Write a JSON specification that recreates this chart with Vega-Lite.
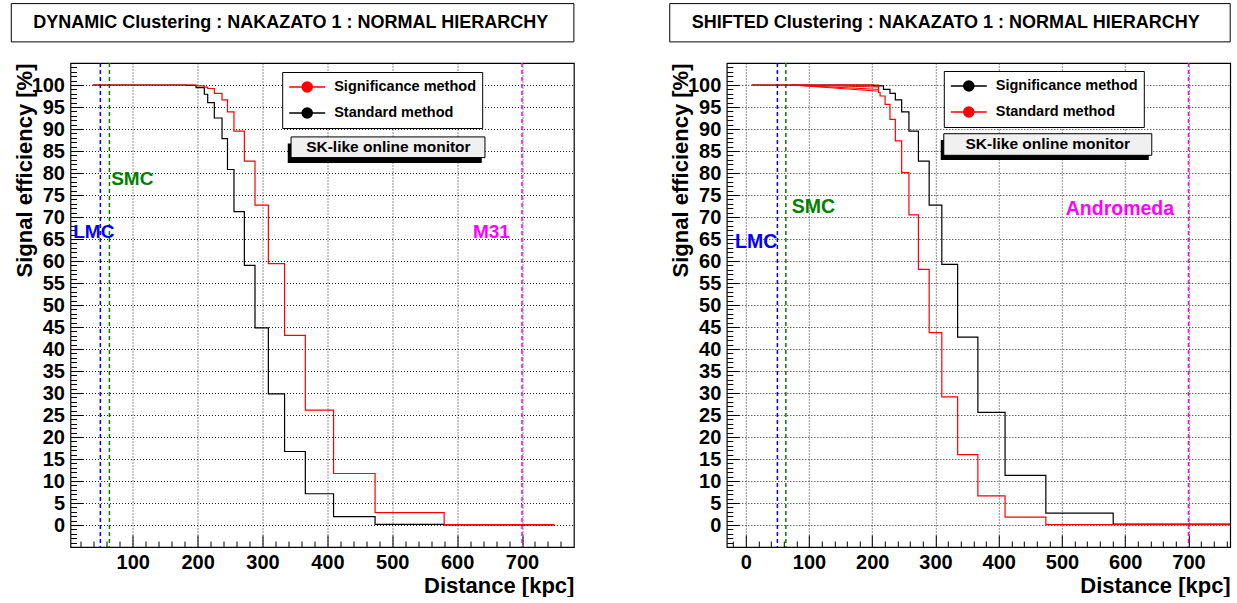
{
  "$schema": "https://vega.github.io/schema/vega-lite/v6.json",
  "background": "white",
  "padding": {"left": 9.5, "top": 2, "right": 0, "bottom": 0},
  "autosize": {"type": "pad"},
  "bounds": "flush",
  "spacing": 152.3,
  "config": {
    "font": "Liberation Sans",
    "view": {"stroke": "black", "strokeWidth": 1.2},
    "axis": {
      "domain": false, "format": "d",
      "labelFont": "Liberation Sans", "labelFontWeight": "bold", "labelFontSize": 20, "labelColor": "black",
      "titleFont": "Liberation Sans", "titleFontWeight": "bold", "titleFontSize": 22, "titleColor": "black",
      "tickColor": "black", "tickWidth": 1, "tickSize": -12, "tickCount": 300,
      "gridColor": "#222", "gridDash": [1, 2], "gridWidth": 1,
      "labelOverlap": false, "labelFlush": false, "labelBound": false
    }
  },
  "datasets": {
    "dyn": [
      {"method": "Standard method", "d": 38.5, "eff": 100},
      {"method": "Standard method", "d": 182, "eff": 99.9},
      {"method": "Standard method", "d": 197.5, "eff": 99.4},
      {"method": "Standard method", "d": 210.3, "eff": 97.9},
      {"method": "Standard method", "d": 215.5, "eff": 96.0},
      {"method": "Standard method", "d": 225.7, "eff": 92.5},
      {"method": "Standard method", "d": 237.6, "eff": 87.8},
      {"method": "Standard method", "d": 246, "eff": 80.8},
      {"method": "Standard method", "d": 256, "eff": 71.2},
      {"method": "Standard method", "d": 272, "eff": 59.0},
      {"method": "Standard method", "d": 288.4, "eff": 44.8},
      {"method": "Standard method", "d": 309, "eff": 29.8},
      {"method": "Standard method", "d": 334, "eff": 16.7},
      {"method": "Standard method", "d": 366, "eff": 7.1},
      {"method": "Standard method", "d": 409.5, "eff": 1.9},
      {"method": "Standard method", "d": 473.5, "eff": 0.16},
      {"method": "Standard method", "d": 580, "eff": 0},
      {"method": "Standard method", "d": 750, "eff": 0},
      {"method": "Significance method", "d": 38.5, "eff": 100},
      {"method": "Significance method", "d": 182, "eff": 100},
      {"method": "Significance method", "d": 197.5, "eff": 99.8},
      {"method": "Significance method", "d": 210.3, "eff": 99.5},
      {"method": "Significance method", "d": 215.5, "eff": 99.2},
      {"method": "Significance method", "d": 225.7, "eff": 98.1},
      {"method": "Significance method", "d": 237.6, "eff": 96.6},
      {"method": "Significance method", "d": 246, "eff": 93.9},
      {"method": "Significance method", "d": 256, "eff": 89.5},
      {"method": "Significance method", "d": 272, "eff": 82.7},
      {"method": "Significance method", "d": 288.4, "eff": 72.7},
      {"method": "Significance method", "d": 309, "eff": 59.4},
      {"method": "Significance method", "d": 334, "eff": 43.1},
      {"method": "Significance method", "d": 366, "eff": 26.1},
      {"method": "Significance method", "d": 409.5, "eff": 11.7},
      {"method": "Significance method", "d": 473.5, "eff": 2.8},
      {"method": "Significance method", "d": 580, "eff": 0.1},
      {"method": "Significance method", "d": 750, "eff": 0.1}
    ],
    "shf": [
      {"method": "Significance method", "d": 9.5, "eff": 100},
      {"method": "Significance method", "d": 202, "eff": 99.8},
      {"method": "Significance method", "d": 217.7, "eff": 99.0},
      {"method": "Significance method", "d": 228, "eff": 98.1},
      {"method": "Significance method", "d": 236.5, "eff": 96.6},
      {"method": "Significance method", "d": 246.5, "eff": 93.9},
      {"method": "Significance method", "d": 258, "eff": 89.5},
      {"method": "Significance method", "d": 273, "eff": 82.7},
      {"method": "Significance method", "d": 290, "eff": 72.7},
      {"method": "Significance method", "d": 310, "eff": 59.25},
      {"method": "Significance method", "d": 335, "eff": 42.7},
      {"method": "Significance method", "d": 367, "eff": 25.6},
      {"method": "Significance method", "d": 410, "eff": 11.3},
      {"method": "Significance method", "d": 474.5, "eff": 2.7},
      {"method": "Significance method", "d": 581, "eff": 0.2},
      {"method": "Significance method", "d": 766, "eff": 0.2},
      {"method": "Standard method", "d": 9.5, "eff": 100},
      {"method": "Standard method", "d": 210, "eff": 98.3},
      {"method": "Standard method", "d": 212.4, "eff": 97.5},
      {"method": "Standard method", "d": 220.3, "eff": 95.6},
      {"method": "Standard method", "d": 228, "eff": 92.2},
      {"method": "Standard method", "d": 236.5, "eff": 87.3},
      {"method": "Standard method", "d": 246.5, "eff": 80.1},
      {"method": "Standard method", "d": 258, "eff": 70.5},
      {"method": "Standard method", "d": 273, "eff": 58.1},
      {"method": "Standard method", "d": 290, "eff": 43.7},
      {"method": "Standard method", "d": 310, "eff": 29.1},
      {"method": "Standard method", "d": 335, "eff": 16.0},
      {"method": "Standard method", "d": 367, "eff": 6.6},
      {"method": "Standard method", "d": 410, "eff": 1.8},
      {"method": "Standard method", "d": 474.5, "eff": 0.1},
      {"method": "Standard method", "d": 766, "eff": 0.1}
    ],
    "fan": [
      {"id": "a", "d": 72, "eff": 100},
      {"id": "a", "d": 210, "eff": 99.55},
      {"id": "b", "d": 72, "eff": 100},
      {"id": "b", "d": 210, "eff": 99.0},
      {"id": "c", "d": 72, "eff": 100},
      {"id": "c", "d": 210, "eff": 98.6}
    ],
    "one": [{}]
  },
  "hconcat": [
    {
      "width": 503.4,
      "height": 484,
      "layer": [
        {
          "data": {"name": "one"},
          "mark": {"type": "rect", "fill": "white", "stroke": "black", "strokeWidth": 1, "clip": false},
          "encoding": {
            "x": {"datum": -87.3, "type": "quantitative", "scale": {"domain": [4, 780], "nice": false, "zero": false}},
            "x2": {"datum": 780},
            "y": {"datum": 118.5, "type": "quantitative", "scale": {"domain": [-5, 105], "nice": false, "zero": false}},
            "y2": {"datum": 109.8}
          }
        },
        {
          "data": {"name": "one"},
          "mark": {"type": "text", "align": "left", "baseline": "middle", "fontSize": 18, "fontWeight": "bold", "color": "black", "clip": false},
          "encoding": {
            "x": {"datum": -53.5, "type": "quantitative", "scale": {"domain": [4, 780], "nice": false, "zero": false}},
            "y": {"datum": 114.2, "type": "quantitative", "scale": {"domain": [-5, 105], "nice": false, "zero": false}},
            "text": {"value": "DYNAMIC Clustering : NAKAZATO 1 : NORMAL HIERARCHY"}
          }
        },
        {
          "data": {"name": "one"},
          "mark": {"type": "rule", "color": "#0000ff", "strokeWidth": 1.5, "strokeDash": [4, 3]},
          "encoding": {"x": {"datum": 50, "type": "quantitative", "scale": {"domain": [4, 780], "nice": false, "zero": false}}}
        },
        {
          "data": {"name": "one"},
          "mark": {"type": "rule", "color": "#008000", "strokeWidth": 1.5, "strokeDash": [4, 3]},
          "encoding": {"x": {"datum": 64, "type": "quantitative", "scale": {"domain": [4, 780], "nice": false, "zero": false}}}
        },
        {
          "data": {"name": "one"},
          "mark": {"type": "rule", "color": "#ff00ff", "strokeWidth": 1.5, "strokeDash": [4, 3]},
          "encoding": {"x": {"datum": 700, "type": "quantitative", "scale": {"domain": [4, 780], "nice": false, "zero": false}}}
        },
        {
          "data": {"name": "one"},
          "mark": {"type": "text", "align": "left", "baseline": "middle", "fontSize": 19, "fontWeight": "bold", "color": "#0000ff"},
          "encoding": {
            "x": {"datum": 8.2, "type": "quantitative", "scale": {"domain": [4, 780], "nice": false, "zero": false}},
            "y": {"datum": 66.5, "type": "quantitative", "scale": {"domain": [-5, 105], "nice": false, "zero": false}},
            "text": {"value": "LMC"}
          }
        },
        {
          "data": {"name": "one"},
          "mark": {"type": "text", "align": "left", "baseline": "middle", "fontSize": 19, "fontWeight": "bold", "color": "#008000"},
          "encoding": {
            "x": {"datum": 66.7, "type": "quantitative", "scale": {"domain": [4, 780], "nice": false, "zero": false}},
            "y": {"datum": 78.7, "type": "quantitative", "scale": {"domain": [-5, 105], "nice": false, "zero": false}},
            "text": {"value": "SMC"}
          }
        },
        {
          "data": {"name": "one"},
          "mark": {"type": "text", "align": "left", "baseline": "middle", "fontSize": 19, "fontWeight": "bold", "color": "#ff00ff"},
          "encoding": {
            "x": {"datum": 624.3, "type": "quantitative", "scale": {"domain": [4, 780], "nice": false, "zero": false}},
            "y": {"datum": 66.5, "type": "quantitative", "scale": {"domain": [-5, 105], "nice": false, "zero": false}},
            "text": {"value": "M31"}
          }
        },
        {
          "data": {"name": "dyn"},
          "mark": {"type": "line", "interpolate": "step-after", "strokeWidth": 1.2},
          "encoding": {
            "x": {
              "field": "d", "type": "quantitative",
              "scale": {"domain": [4, 780], "nice": false, "zero": false},
              "axis": {
                "title": "Distance [kpc]", "titleAnchor": "end", "titlePadding": 3, "tickCount": 300, "format": "d",
                "values": [20, 40, 60, 80, 100, 120, 140, 160, 180, 200, 220, 240, 260, 280, 300, 320, 340, 360, 380, 400, 420, 440, 460, 480, 500, 520, 540, 560, 580, 600, 620, 640, 660, 680, 700, 720, 740, 760],
                "labelExpr": "datum.value % 100 === 0 ? datum.label : ''",
                "tickDash": {"condition": {"test": "datum.value % 100 === 0", "value": [100, 1]}, "value": [6, 100]},
                "labelPadding": 17,
                "grid": true,
                "gridOpacity": {"condition": {"test": "datum.value % 100 === 0", "value": 1}, "value": 0}
              }
            },
            "y": {
              "field": "eff", "type": "quantitative",
              "scale": {"domain": [-5, 105], "nice": false, "zero": false},
              "axis": {
                "title": "Signal efficiency [%]", "titleAnchor": "end", "titlePadding": -5, "tickCount": 300, "format": "d",
                "values": [-5, -4, -3, -2, -1, 0, 1, 2, 3, 4, 5, 6, 7, 8, 9, 10, 11, 12, 13, 14, 15, 16, 17, 18, 19, 20, 21, 22, 23, 24, 25, 26, 27, 28, 29, 30, 31, 32, 33, 34, 35, 36, 37, 38, 39, 40, 41, 42, 43, 44, 45, 46, 47, 48, 49, 50, 51, 52, 53, 54, 55, 56, 57, 58, 59, 60, 61, 62, 63, 64, 65, 66, 67, 68, 69, 70, 71, 72, 73, 74, 75, 76, 77, 78, 79, 80, 81, 82, 83, 84, 85, 86, 87, 88, 89, 90, 91, 92, 93, 94, 95, 96, 97, 98, 99, 100, 101, 102, 103, 104, 105],
                "labelExpr": "datum.value % 5 === 0 && datum.value >= 0 && datum.value <= 100 ? datum.label : ''",
                "tickDash": {"condition": {"test": "datum.value % 5 === 0", "value": [100, 1]}, "value": [6, 100]},
                "labelPadding": 18,
                "grid": true,
                "gridOpacity": {"condition": {"test": "datum.value % 5 === 0 && datum.value >= 0 && datum.value <= 100", "value": 1}, "value": 0}
              }
            },
            "color": {
              "field": "method", "type": "nominal",
              "scale": {"domain": ["Significance method", "Standard method"], "range": ["#ff0000", "#000000"]},
              "legend": {
                "title": null, "orient": "none", "legendX": 211.7, "legendY": 9, "direction": "vertical",
                "strokeColor": "black", "fillColor": "white", "padding": 6, "cornerRadius": 0,
                "symbolType": "M-1,0L1,0M0.28,0A0.28,0.28,0,1,1,-0.28,0A0.28,0.28,0,1,1,0.28,0Z",
                "symbolSize": 1296, "symbolStrokeWidth": 1.5,
                "labelFont": "Liberation Sans", "labelFontWeight": "bold", "labelFontSize": 14.5, "labelColor": "black",
                "labelOffset": 8, "rowPadding": 8, "clipHeight": 18,
                "encode": {"symbols": {"update": {"fill": {"signal": "datum.label === 'Significance method' ? '#ff0000' : '#000000'"}}}}
              }
            }
          }
        },
        {
          "data": {"name": "one"},
          "mark": {"type": "rect", "fill": "black"},
          "encoding": {
            "x": {"datum": 338.9, "type": "quantitative", "scale": {"domain": [4, 780], "nice": false, "zero": false}},
            "x2": {"datum": 638},
            "y": {"datum": 86.7, "type": "quantitative", "scale": {"domain": [-5, 105], "nice": false, "zero": false}},
            "y2": {"datum": 82.3}
          }
        },
        {
          "data": {"name": "one"},
          "mark": {"type": "rect", "fill": "#f0f0f0", "stroke": "black", "strokeWidth": 1},
          "encoding": {
            "x": {"datum": 344, "type": "quantitative", "scale": {"domain": [4, 780], "nice": false, "zero": false}},
            "x2": {"datum": 642.9},
            "y": {"datum": 88.2, "type": "quantitative", "scale": {"domain": [-5, 105], "nice": false, "zero": false}},
            "y2": {"datum": 83.5}
          }
        },
        {
          "data": {"name": "one"},
          "mark": {"type": "text", "align": "center", "baseline": "middle", "fontSize": 15.5, "fontWeight": "bold", "color": "black"},
          "encoding": {
            "x": {"datum": 494, "type": "quantitative", "scale": {"domain": [4, 780], "nice": false, "zero": false}},
            "y": {"datum": 85.8, "type": "quantitative", "scale": {"domain": [-5, 105], "nice": false, "zero": false}},
            "text": {"value": "SK-like online monitor"}
          }
        }
      ]
    },
    {
      "width": 503.4,
      "height": 484,
      "layer": [
        {
          "data": {"name": "one"},
          "mark": {"type": "rect", "fill": "white", "stroke": "black", "strokeWidth": 1, "clip": false},
          "encoding": {
            "x": {"datum": -120.2, "type": "quantitative", "scale": {"domain": [-30, 766], "nice": false, "zero": false}},
            "x2": {"datum": 766},
            "y": {"datum": 118.5, "type": "quantitative", "scale": {"domain": [-5, 105], "nice": false, "zero": false}},
            "y2": {"datum": 109.8}
          }
        },
        {
          "data": {"name": "one"},
          "mark": {"type": "text", "align": "left", "baseline": "middle", "fontSize": 18, "fontWeight": "bold", "color": "black", "clip": false},
          "encoding": {
            "x": {"datum": -85.4, "type": "quantitative", "scale": {"domain": [-30, 766], "nice": false, "zero": false}},
            "y": {"datum": 114.2, "type": "quantitative", "scale": {"domain": [-5, 105], "nice": false, "zero": false}},
            "text": {"value": "SHIFTED Clustering : NAKAZATO 1 : NORMAL HIERARCHY"}
          }
        },
        {
          "data": {"name": "one"},
          "mark": {"type": "rule", "color": "#0000ff", "strokeWidth": 1.5, "strokeDash": [4, 3]},
          "encoding": {"x": {"datum": 50, "type": "quantitative", "scale": {"domain": [-30, 766], "nice": false, "zero": false}}}
        },
        {
          "data": {"name": "one"},
          "mark": {"type": "rule", "color": "#008000", "strokeWidth": 1.5, "strokeDash": [4, 3]},
          "encoding": {"x": {"datum": 63.4, "type": "quantitative", "scale": {"domain": [-30, 766], "nice": false, "zero": false}}}
        },
        {
          "data": {"name": "one"},
          "mark": {"type": "rule", "color": "#ff00ff", "strokeWidth": 1.5, "strokeDash": [4, 3]},
          "encoding": {"x": {"datum": 700, "type": "quantitative", "scale": {"domain": [-30, 766], "nice": false, "zero": false}}}
        },
        {
          "data": {"name": "one"},
          "mark": {"type": "text", "align": "left", "baseline": "middle", "fontSize": 19.5, "fontWeight": "bold", "color": "#0000ff"},
          "encoding": {
            "x": {"datum": -16.9, "type": "quantitative", "scale": {"domain": [-30, 766], "nice": false, "zero": false}},
            "y": {"datum": 64.4, "type": "quantitative", "scale": {"domain": [-5, 105], "nice": false, "zero": false}},
            "text": {"value": "LMC"}
          }
        },
        {
          "data": {"name": "one"},
          "mark": {"type": "text", "align": "left", "baseline": "middle", "fontSize": 19.5, "fontWeight": "bold", "color": "#008000"},
          "encoding": {
            "x": {"datum": 72.7, "type": "quantitative", "scale": {"domain": [-30, 766], "nice": false, "zero": false}},
            "y": {"datum": 72.2, "type": "quantitative", "scale": {"domain": [-5, 105], "nice": false, "zero": false}},
            "text": {"value": "SMC"}
          }
        },
        {
          "data": {"name": "one"},
          "mark": {"type": "text", "align": "left", "baseline": "middle", "fontSize": 19.5, "fontWeight": "bold", "color": "#ff00ff"},
          "encoding": {
            "x": {"datum": 506, "type": "quantitative", "scale": {"domain": [-30, 766], "nice": false, "zero": false}},
            "y": {"datum": 71.8, "type": "quantitative", "scale": {"domain": [-5, 105], "nice": false, "zero": false}},
            "text": {"value": "Andromeda"}
          }
        },
        {
          "data": {"name": "shf"},
          "mark": {"type": "line", "interpolate": "step-after", "strokeWidth": 1.2},
          "encoding": {
            "x": {
              "field": "d", "type": "quantitative",
              "scale": {"domain": [-30, 766], "nice": false, "zero": false},
              "axis": {
                "title": "Distance [kpc]", "titleAnchor": "end", "titlePadding": 3, "tickCount": 300, "format": "d",
                "values": [-20, 0, 20, 40, 60, 80, 100, 120, 140, 160, 180, 200, 220, 240, 260, 280, 300, 320, 340, 360, 380, 400, 420, 440, 460, 480, 500, 520, 540, 560, 580, 600, 620, 640, 660, 680, 700, 720, 740, 760],
                "labelExpr": "datum.value % 100 === 0 ? datum.label : ''",
                "tickDash": {"condition": {"test": "datum.value % 100 === 0", "value": [100, 1]}, "value": [6, 100]},
                "labelPadding": 17,
                "grid": true,
                "gridOpacity": {"condition": {"test": "datum.value % 100 === 0", "value": 1}, "value": 0}
              }
            },
            "y": {
              "field": "eff", "type": "quantitative",
              "scale": {"domain": [-5, 105], "nice": false, "zero": false},
              "axis": {
                "title": "Signal efficiency [%]", "titleAnchor": "end", "titlePadding": -5, "tickCount": 300, "format": "d",
                "values": [-5, -4, -3, -2, -1, 0, 1, 2, 3, 4, 5, 6, 7, 8, 9, 10, 11, 12, 13, 14, 15, 16, 17, 18, 19, 20, 21, 22, 23, 24, 25, 26, 27, 28, 29, 30, 31, 32, 33, 34, 35, 36, 37, 38, 39, 40, 41, 42, 43, 44, 45, 46, 47, 48, 49, 50, 51, 52, 53, 54, 55, 56, 57, 58, 59, 60, 61, 62, 63, 64, 65, 66, 67, 68, 69, 70, 71, 72, 73, 74, 75, 76, 77, 78, 79, 80, 81, 82, 83, 84, 85, 86, 87, 88, 89, 90, 91, 92, 93, 94, 95, 96, 97, 98, 99, 100, 101, 102, 103, 104, 105],
                "labelExpr": "datum.value % 5 === 0 && datum.value >= 0 && datum.value <= 100 ? datum.label : ''",
                "tickDash": {"condition": {"test": "datum.value % 5 === 0", "value": [100, 1]}, "value": [6, 100]},
                "labelPadding": 18,
                "grid": true,
                "gridOpacity": {"condition": {"test": "datum.value % 5 === 0 && datum.value >= 0 && datum.value <= 100", "value": 1}, "value": 0}
              }
            },
            "color": {
              "field": "method", "type": "nominal",
              "scale": {"domain": ["Significance method", "Standard method"], "range": ["#000000", "#ff0000"]},
              "legend": {
                "title": null, "orient": "none", "legendX": 217, "legendY": 8, "direction": "vertical",
                "strokeColor": "black", "fillColor": "white", "padding": 6, "cornerRadius": 0,
                "symbolType": "M-1,0L1,0M0.28,0A0.28,0.28,0,1,1,-0.28,0A0.28,0.28,0,1,1,0.28,0Z",
                "symbolSize": 1296, "symbolStrokeWidth": 1.5,
                "labelFont": "Liberation Sans", "labelFontWeight": "bold", "labelFontSize": 14.5, "labelColor": "black",
                "labelOffset": 8, "rowPadding": 8, "clipHeight": 18,
                "encode": {"symbols": {"update": {"fill": {"signal": "datum.label === 'Significance method' ? '#000000' : '#ff0000'"}}}}
              }
            }
          }
        },
        {
          "data": {"name": "fan"},
          "mark": {"type": "line", "color": "#ff0000", "strokeWidth": 1},
          "encoding": {
            "x": {"field": "d", "type": "quantitative", "scale": {"domain": [-30, 766], "nice": false, "zero": false}},
            "y": {"field": "eff", "type": "quantitative", "scale": {"domain": [-5, 105], "nice": false, "zero": false}},
            "detail": {"field": "id", "type": "nominal"}
          }
        },
        {
          "data": {"name": "one"},
          "mark": {"type": "rect", "fill": "black"},
          "encoding": {
            "x": {"datum": 308.3, "type": "quantitative", "scale": {"domain": [-30, 766], "nice": false, "zero": false}},
            "x2": {"datum": 637.3},
            "y": {"datum": 87.5, "type": "quantitative", "scale": {"domain": [-5, 105], "nice": false, "zero": false}},
            "y2": {"datum": 82.95}
          }
        },
        {
          "data": {"name": "one"},
          "mark": {"type": "rect", "fill": "#f0f0f0", "stroke": "black", "strokeWidth": 1},
          "encoding": {
            "x": {"datum": 313.1, "type": "quantitative", "scale": {"domain": [-30, 766], "nice": false, "zero": false}},
            "x2": {"datum": 642},
            "y": {"datum": 88.93, "type": "quantitative", "scale": {"domain": [-5, 105], "nice": false, "zero": false}},
            "y2": {"datum": 84.02}
          }
        },
        {
          "data": {"name": "one"},
          "mark": {"type": "text", "align": "center", "baseline": "middle", "fontSize": 15.5, "fontWeight": "bold", "color": "black"},
          "encoding": {
            "x": {"datum": 477.5, "type": "quantitative", "scale": {"domain": [-30, 766], "nice": false, "zero": false}},
            "y": {"datum": 86.48, "type": "quantitative", "scale": {"domain": [-5, 105], "nice": false, "zero": false}},
            "text": {"value": "SK-like online monitor"}
          }
        }
      ]
    }
  ],
  "resolve": {
    "scale": {"x": "independent", "y": "independent", "color": "independent"},
    "legend": {"color": "independent"}
  }
}
